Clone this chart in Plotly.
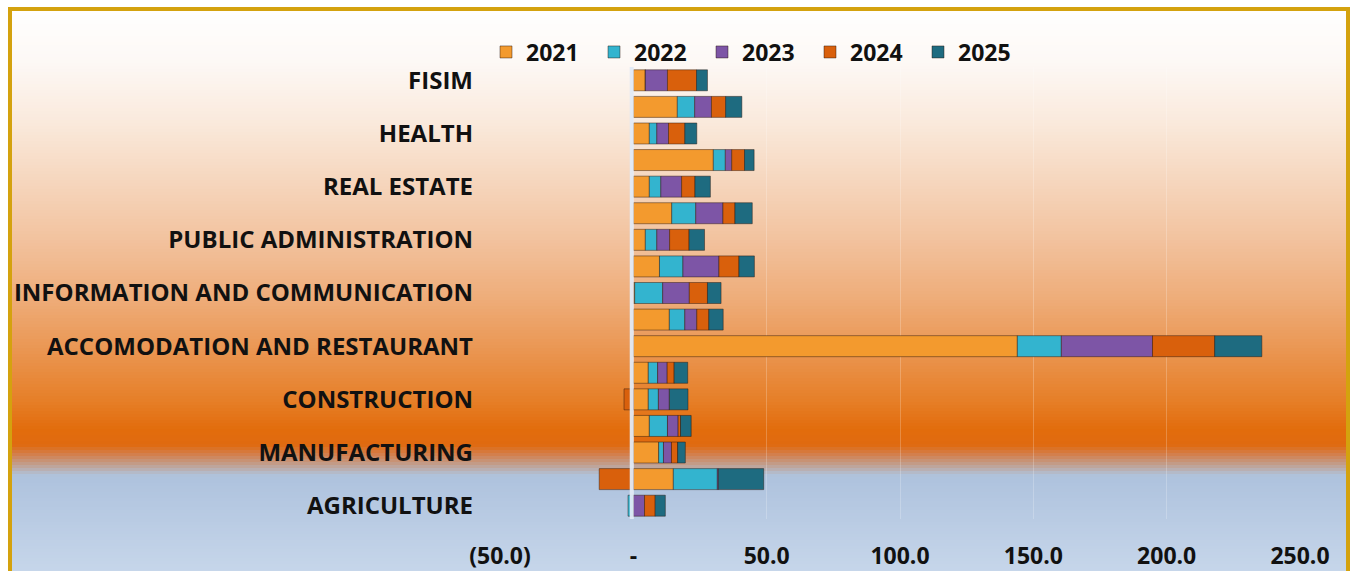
import numpy as np
import plotly.graph_objects as go

categories = [
    "AGRICULTURE", "MINING AND QUARRYING", "MANUFACTURING", "ELECTRICITY AND WATER",
    "CONSTRUCTION", "WHOLESALE AND RETAIL TRADE", "ACCOMODATION AND RESTAURANT",
    "TRANSPORT AND STORAGE", "INFORMATION AND COMMUNICATION", "FINANCE AND INSURANCE",
    "PUBLIC ADMINISTRATION", "EDUCATION", "REAL ESTATE", "PROFESSIONAL SERVICES",
    "HEALTH", "OTHER SERVICES", "FISIM",
]
shown_labels = ["AGRICULTURE", "MANUFACTURING", "CONSTRUCTION", "ACCOMODATION AND RESTAURANT",
                "INFORMATION AND COMMUNICATION", "PUBLIC ADMINISTRATION", "REAL ESTATE",
                "HEALTH", "FISIM"]

years = ["2021", "2022", "2023", "2024", "2025"]
v2021 = [0.0, 15.0, 9.5, 6.0, 5.6, 5.6, 144.0, 13.5, 0.5, 9.8, 4.5, 14.4, 6.0, 30.0, 6.0, 16.5, 4.5]
v2022 = [-2.0, 16.5, 1.8, 6.8, 3.8, 3.5, 16.5, 5.8, 10.5, 8.8, 4.3, 9.0, 4.3, 4.5, 2.8, 6.5, 0.0]
v2023 = [4.2, 0.4, 3.0, 4.0, 4.1, 3.6, 34.2, 4.5, 10.0, 13.5, 4.8, 10.2, 7.8, 2.4, 4.4, 6.3, 8.3]
v2024 = [4.0, -12.8, 2.3, 0.9, -3.5, 2.6, 23.3, 4.5, 6.8, 7.5, 7.3, 4.5, 5.0, 4.8, 6.1, 5.3, 10.9]
v2025 = [3.8, 17.0, 2.9, 4.0, 7.0, 5.1, 17.7, 5.4, 5.1, 5.8, 5.8, 6.5, 5.8, 3.6, 4.5, 6.1, 4.1]
series = [v2021, v2022, v2023, v2024, v2025]

x_tickvals = [-50, 0, 50, 100, 150, 200, 250]
x_ticktext = ["(50.0)", "-", "50.0", "100.0", "150.0", "200.0", "250.0"]

colors = ["#F39A2E", "#33B4CF", "#7D55A6", "#D9600C", "#1E6B80"]

W, H = 1353, 571
ML, MR, MT, MB = 500, 53, 67, 52
PW, PH = W - ML - MR, H - MT - MB


def px_x(p):
    return (p - ML) / PW


def px_y(p):
    return (H - MB - p) / PH


fig = go.Figure()
for name, vals, c in zip(years, series, colors):
    fig.add_trace(go.Bar(
        y=categories, x=vals, name=name, orientation="h",
        marker=dict(color=c, line=dict(color="rgba(40,20,10,0.45)", width=1)),
    ))

# background vertical gradient via thin stripes
stops = [
    (0, (255, 255, 255)), (60, (253, 249, 246)), (120, (250, 234, 221)),
    (180, (246, 215, 190)), (240, (242, 194, 158)), (300, (238, 172, 120)),
    (350, (234, 150, 82)), (400, (230, 127, 40)), (430, (226, 108, 12)),
    (445, (224, 106, 16)), (455, (210, 128, 80)), (465, (192, 160, 145)),
    (475, (176, 194, 218)), (480, (175, 195, 222)), (571, (198, 214, 234)),
]
sp = np.array([s[0] for s in stops], dtype=float)
sc = np.array([s[1] for s in stops], dtype=float)
shapes = []
step = 3
for y0 in range(9, 575, step):
    yc = y0 + step / 2
    col = [int(round(np.interp(yc, sp, sc[:, k]))) for k in range(3)]
    shapes.append(dict(type="rect", xref="paper", yref="paper",
                       x0=px_x(10), x1=px_x(1348), y0=px_y(y0 + step + 0.5), y1=px_y(y0),
                       fillcolor="rgb(%d,%d,%d)" % tuple(col), line=dict(width=0), layer="below"))
# gold border
shapes.append(dict(type="rect", xref="paper", yref="paper",
                   x0=px_x(10), x1=px_x(1348), y0=px_y(640), y1=px_y(9),
                   line=dict(color="#D4A20E", width=4), fillcolor="rgba(0,0,0,0)", layer="below"))
# vertical axis line at zero, drawn above bars
shapes.append(dict(type="line", xref="x", yref="paper", x0=-0.6, x1=-0.6, y0=0, y1=1,
                   line=dict(color="rgba(226,234,246,0.95)", width=4), layer="above"))

FONT = "Open Sans"
fig.update_layout(
    width=W, height=H,
    margin=dict(l=ML, r=MR, t=MT, b=MB, pad=0, autoexpand=False),
    paper_bgcolor="white",
    plot_bgcolor="rgba(255,255,255,0.12)",
    barmode="relative",
    bargap=0.21,
    font=dict(family=FONT, size=24, color="#111111"),
    shapes=shapes,
    showlegend=True,
    legend=dict(orientation="h", x=px_x(486), xanchor="left", y=px_y(52), yanchor="middle",
                traceorder="normal", bgcolor="rgba(0,0,0,0)",
                font=dict(family=FONT, size=23, color="#111111", weight="bold"),
                entrywidth=63, entrywidthmode="pixels", itemwidth=30),
    xaxis=dict(range=[-50, 250], tickvals=x_tickvals, ticktext=x_ticktext,
               showgrid=True, gridcolor="rgba(255,255,255,0.22)", gridwidth=1,
               zeroline=False, showline=False, ticks="", automargin=False,
               ticklabelstandoff=21,
               tickfont=dict(family=FONT, size=23, color="#111111", weight="bold")),
    yaxis=dict(type="category", categoryorder="array", categoryarray=categories,
               tickvals=shown_labels, ticktext=shown_labels, automargin=False,
               showgrid=False, zeroline=False, showline=False, ticks="",
               ticklabelstandoff=26,
               tickfont=dict(family=FONT, size=24, color="#111111", weight="bold")),
)

fig.write_html(
    "out.html",
    config={"displayModeBar": False},
    post_script="document.body.style.margin='0';document.body.style.overflow='hidden';",
)
